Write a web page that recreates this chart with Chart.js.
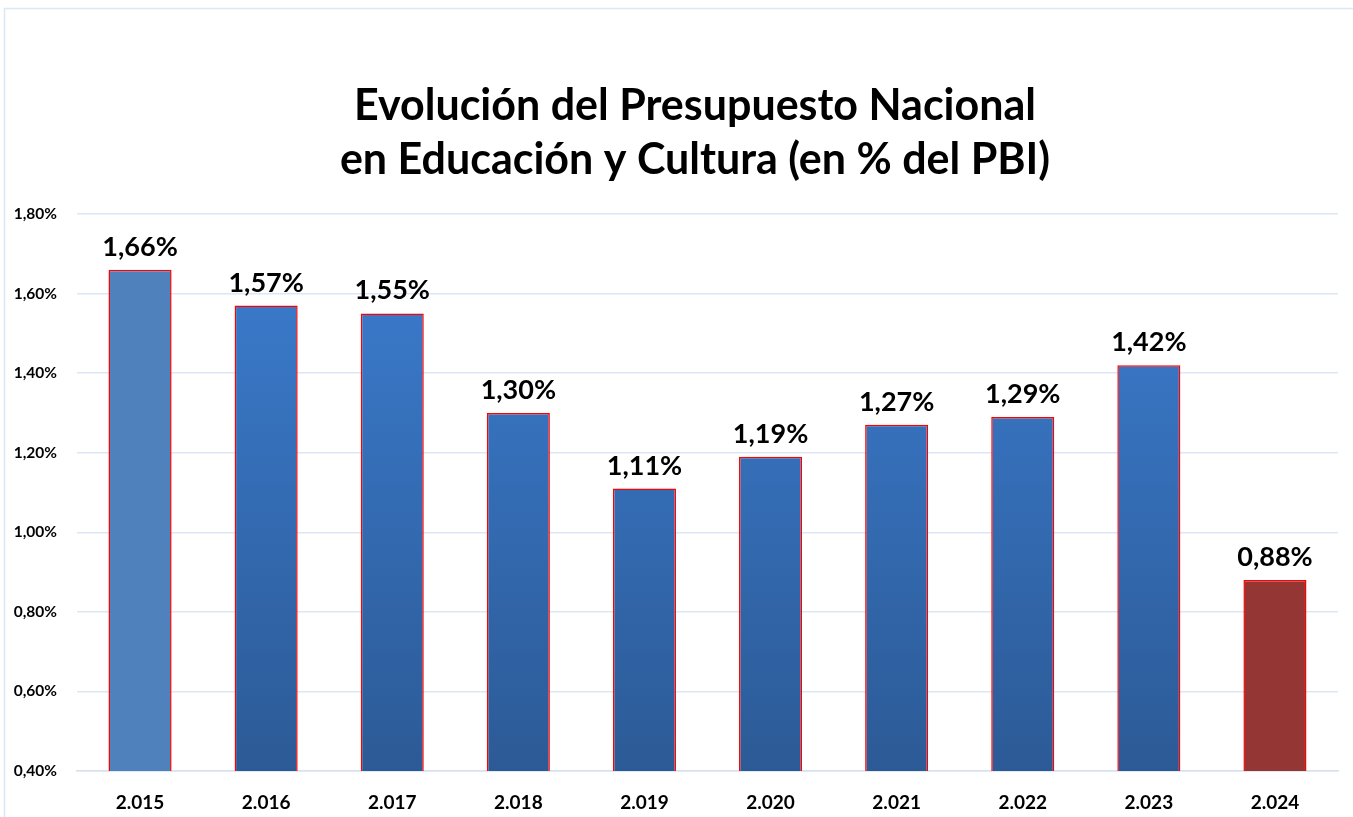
<!DOCTYPE html>
<html>
<head>
<meta charset="utf-8">
<script src="https://cdn.jsdelivr.net/npm/chart.js@4"></script>
<style>
    html, body { margin: 0; padding: 0; background: #fff; }
    #wrap { width: 1353px; height: 817px; position: relative; }
</style>
</head>
<body>
<div id="wrap"><canvas id="myChart" width="1353" height="817"></canvas></div>
<script>
var years  = ['2.015', '2.016', '2.017', '2.018', '2.019', '2.020', '2.021', '2.022', '2.023', '2.024'];
var values = [1.66, 1.57, 1.55, 1.30, 1.11, 1.19, 1.27, 1.29, 1.42, 0.88];
var y_ticks = [0.40, 0.60, 0.80, 1.00, 1.20, 1.40, 1.60, 1.80];
var title_lines = ['Evolución del Presupuesto Nacional', 'en Educación y Cultura (en % del PBI)'];

var FONT = 'Lato, "Open Sans", sans-serif';

function fmt(v){
    return v.toFixed(2).replace('.', ',') + '%';
}

function barColor(ctx){
    var i = ctx.dataIndex;
    if (i === 0) return 'rgb(79, 129, 189)';
    if (i === values.length - 1) return 'rgb(148, 54, 52)';
    var area = ctx.chart.chartArea;
    if (!area) return 'rgb(55, 110, 185)';
    var g = ctx.chart.ctx.createLinearGradient(0, area.top, 0, area.bottom);
    g.addColorStop(0, 'rgb(60, 126, 210)');
    g.addColorStop(1, 'rgb(44, 90, 150)');
    return g;
}

// title, value labels above bars, outer frame
var labelsPlugin = {
    id: 'labels',
    afterDatasetsDraw: function(chart){
        var c = chart.ctx;
        var meta = chart.getDatasetMeta(0);
        c.save();
        c.font = 'bold 27px ' + FONT;
        c.fillStyle = '#000';
        c.textAlign = 'center';
        c.textBaseline = 'alphabetic';
        meta.data.forEach(function(bar, i){
            c.fillText(fmt(values[i]), bar.x, bar.y - 14);
        });
        c.restore();
    },
    beforeDraw: function(chart){
        var c = chart.ctx;
        c.save();
        c.strokeStyle = '#dce8f4';
        c.lineWidth = 1.5;
        c.strokeRect(4.5, 8.5, chart.width + 10, chart.height + 10);
        c.font = 'bold 43px ' + FONT;
        c.fillStyle = '#000';
        c.textAlign = 'center';
        c.textBaseline = 'middle';
        title_lines.forEach(function(t, i){
            c.fillText(t, 695, 106 + i * 54);
        });
        c.restore();
    }
};

var config = {
    type: 'bar',
    data: {
        labels: years,
        datasets: [{
            data: values,
            backgroundColor: barColor,
            borderColor: 'rgb(255, 0, 0)',
            borderWidth: 1.5,
            barPercentage: 0.5,
            categoryPercentage: 1.0
        }]
    },
    options: {
        responsive: false,
        animation: false,
        layout: { padding: { left: 8, right: 15, top: 214, bottom: 0 } },
        plugins: {
            legend: { display: false },
            tooltip: { enabled: false },
            title: { display: false }
        },
        scales: {
            x: {
                grid: { display: false },
                border: { display: true, color: '#d6e2f0', width: 1.5 },
                afterFit: function(axis){ axis.height = 46; },
                ticks: {
                    color: '#000',
                    font: { family: FONT, size: 19, weight: 'bold' },
                    padding: 12
                }
            },
            y: {
                min: 0.4,
                max: 1.8,
                afterBuildTicks: function(axis){
                    axis.ticks = y_ticks.map(function(v){ return { value: v }; });
                },
                afterFit: function(axis){ axis.width = 69; },
                grid: { color: '#dce7f4', lineWidth: 1.5, drawTicks: false },
                border: { display: false },
                ticks: {
                    color: '#000',
                    font: { family: FONT, size: 15.5, weight: 'bold' },
                    padding: 20,
                    callback: function(v){ return fmt(v); }
                }
            }
        }
    },
    plugins: [labelsPlugin]
};

var myChart = new Chart(document.getElementById('myChart'), config);
</script>
</body>
</html>
